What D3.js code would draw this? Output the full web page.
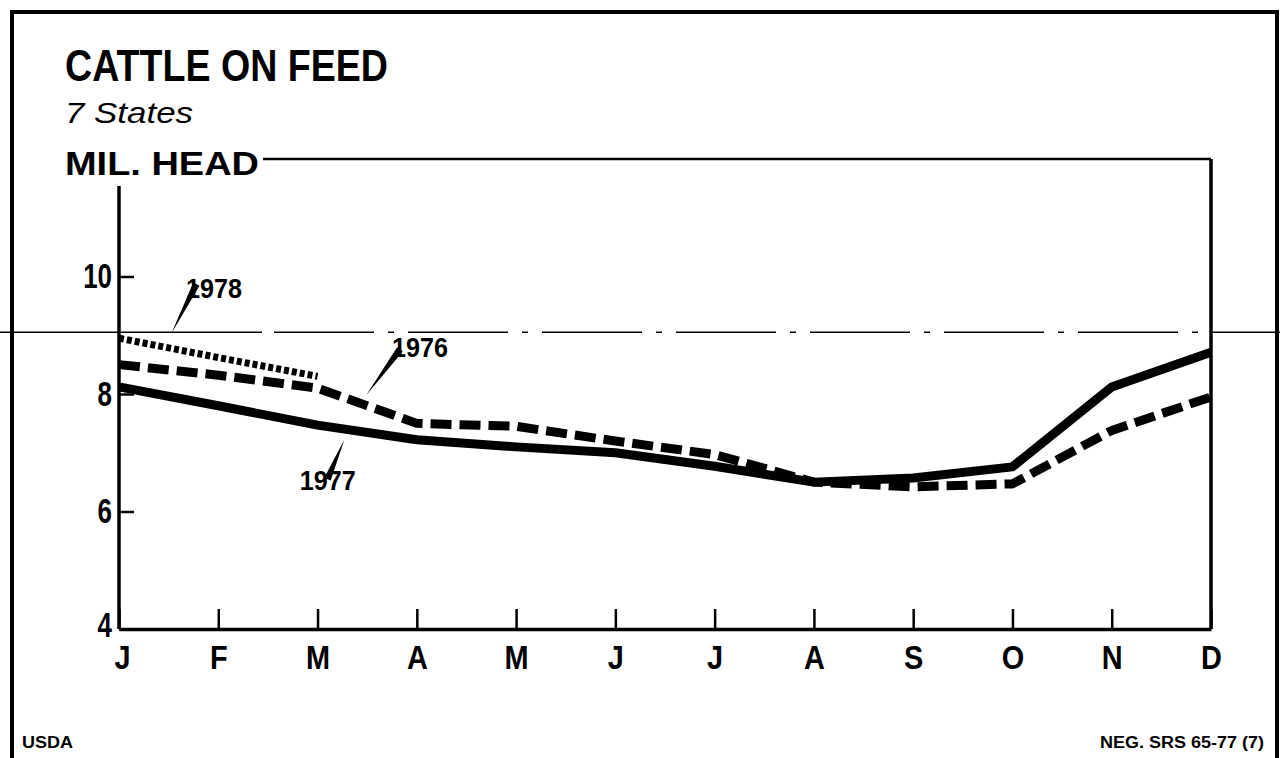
<!DOCTYPE html>
<html>
<head>
<meta charset="utf-8">
<script src="https://cdn.jsdelivr.net/npm/d3@7"></script>
<style>
  html, body { margin: 0; padding: 0; background: #fff; }
  svg { display: block; }
  text { font-family: "Liberation Sans", Arial, Helvetica, sans-serif; fill: #000; }
</style>
</head>
<body>
<svg id="chart" width="1280" height="758"></svg>
<script>
// ---- data ----
const months = ["J", "F", "M", "A", "M", "J", "J", "A", "S", "O", "N", "D"];
const yTickValues = [4, 6, 8, 10];
const series1976 = [8.5, 8.32, 8.1, 7.5, 7.45, 7.2, 6.97, 6.5, 6.42, 6.47, 7.38, 7.95];
const series1977 = [8.12, 7.8, 7.47, 7.22, 7.1, 7.0, 6.77, 6.5, 6.57, 6.76, 8.12, 8.71];
const series1978 = [8.95, 8.62, 8.3];
const referenceLevel = [9.05];
const seriesNames = ["1976", "1977", "1978"];

// ---- layout ----
const svg = d3.select("#chart");
const W = 1280, H = 758;
const plot = { left: 119, right: 1211, top: 159, bottom: 629 };

const x = d3.scaleLinear().domain([0, 11]).range([plot.left, plot.right]);
const y = d3.scaleLinear().domain([4, 12]).range([plot.bottom, plot.top]);

function condense(sel, factor) {
  sel.each(function() {
    const w = this.getComputedTextLength();
    d3.select(this).attr("textLength", w * factor).attr("lengthAdjust", "spacingAndGlyphs");
  });
}

// outer border
svg.append("path")
  .attr("d", `M12,${H} L12,12 L1277,12 L1277,${H}`)
  .attr("fill", "none").attr("stroke", "#000").attr("stroke-width", 4);

// reference dash-dot line spanning full width
referenceLevel.forEach(v => {
  svg.append("line").attr("x1", 0).attr("x2", 262)
    .attr("y1", y(v)).attr("y2", y(v))
    .attr("stroke", "#000").attr("stroke-width", 1.6);
  svg.append("line").attr("x1", 274).attr("x2", W)
    .attr("y1", y(v)).attr("y2", y(v))
    .attr("stroke", "#000").attr("stroke-width", 1.6)
    .attr("stroke-dasharray", "100,14,6,14");
});

// titles
svg.append("text").attr("x", 65).attr("y", 81)
  .attr("font-size", 45).attr("font-weight", "bold")
  .attr("textLength", 323).attr("lengthAdjust", "spacingAndGlyphs")
  .text("CATTLE ON FEED");
svg.append("text").attr("x", 65).attr("y", 123)
  .attr("font-size", 30).attr("font-style", "italic")
  .attr("textLength", 128).attr("lengthAdjust", "spacingAndGlyphs")
  .text("7 States");
svg.append("text").attr("x", 65).attr("y", 175)
  .attr("font-size", 34).attr("font-weight", "bold")
  .attr("textLength", 194).attr("lengthAdjust", "spacingAndGlyphs")
  .text("MIL. HEAD");

// plot frame: top (after label), right, left
svg.append("line").attr("x1", 263).attr("x2", plot.right)
  .attr("y1", plot.top).attr("y2", plot.top)
  .attr("stroke", "#000").attr("stroke-width", 2.5);
svg.append("line").attr("x1", plot.right).attr("x2", plot.right)
  .attr("y1", plot.top).attr("y2", plot.bottom)
  .attr("stroke", "#000").attr("stroke-width", 3.5);
svg.append("line").attr("x1", plot.left).attr("x2", plot.left)
  .attr("y1", 186).attr("y2", plot.bottom)
  .attr("stroke", "#000").attr("stroke-width", 3.5);

// x axis
const xAxis = d3.axisBottom(x)
  .tickValues(d3.range(months.length))
  .tickFormat(i => months[i])
  .tickSize(-20).tickSizeOuter(0).tickPadding(16);
const gx = svg.append("g").attr("transform", `translate(0,${plot.bottom})`).call(xAxis);
gx.select(".domain").attr("stroke-width", 3.5);
gx.selectAll(".tick line").attr("stroke-width", 2.5);
gx.selectAll(".tick text").attr("font-size", 34).attr("font-weight", "bold")
  .attr("font-family", "'Liberation Sans', Arial, sans-serif").attr("fill", "#000")
  .attr("dx", (d, i) => i === 0 ? 3 : 0)
  .call(condense, 0.85);

// y axis
const yAxis = d3.axisLeft(y)
  .tickValues(yTickValues)
  .tickFormat(d3.format("d"))
  .tickSize(-15).tickSizeOuter(0).tickPadding(7);
const gy = svg.append("g").attr("transform", `translate(${plot.left},0)`).call(yAxis);
gy.select(".domain").remove();
gy.selectAll(".tick line").attr("stroke-width", 2.5);
gy.selectAll(".tick text").attr("font-size", 35).attr("font-weight", "bold")
  .attr("font-family", "'Liberation Sans', Arial, sans-serif").attr("fill", "#000")
  .attr("dy", d => d === 4 ? "0.2em" : "0.32em")
  .call(condense, 0.74);

// lines
const line = d3.line().x((d, i) => x(i)).y(d => y(d)).curve(d3.curveLinear);
const styles = {
  "1976": { data: series1976, width: 9, dash: "21,8" },
  "1977": { data: series1977, width: 9, dash: null },
  "1978": { data: series1978, width: 7, dash: "5,3" }
};
seriesNames.forEach(name => {
  const s = styles[name];
  svg.append("path").datum(s.data)
    .attr("d", line)
    .attr("fill", "none").attr("stroke", "#000")
    .attr("stroke-width", s.width)
    .attr("stroke-linejoin", "round")
    .attr("stroke-dasharray", s.dash);
});

// annotations (data coordinates: month index, value)
const annotations = [
  { text: "1978", tx: 0.675, tv: 9.63, tip: [0.53, 9.04], base: [0.78, 9.87] },
  { text: "1976", tx: 2.75, tv: 8.63, tip: [2.49, 7.98], base: [2.83, 8.76] },
  { text: "1977", tx: 1.82, tv: 6.37, tip: [2.27, 7.22], base: [2.10, 6.55] }
];
annotations.forEach(a => {
  const x1 = x(a.tip[0]), y1 = y(a.tip[1]);
  const x2 = x(a.base[0]), y2 = y(a.base[1]);
  const dx = x2 - x1, dy = y2 - y1, len = Math.hypot(dx, dy);
  const nx = -dy / len * 3.5, ny = dx / len * 3.5;
  svg.append("path")
    .attr("d", `M${x1},${y1} L${x2 + nx},${y2 + ny} L${x2 - nx},${y2 - ny} Z`)
    .attr("fill", "#000");
  svg.append("text").attr("x", x(a.tx)).attr("y", y(a.tv))
    .attr("font-size", 28).attr("font-weight", "bold")
    .attr("textLength", 56).attr("lengthAdjust", "spacingAndGlyphs")
    .text(a.text);
});

// footer
svg.append("text").attr("x", 22).attr("y", 748)
  .attr("font-size", 16).attr("font-weight", "bold")
  .attr("textLength", 51).attr("lengthAdjust", "spacingAndGlyphs")
  .text("USDA");
svg.append("text").attr("x", 1100).attr("y", 748)
  .attr("font-size", 16).attr("font-weight", "bold")
  .attr("textLength", 164).attr("lengthAdjust", "spacingAndGlyphs")
  .text("NEG. SRS 65-77 (7)");
</script>
</body>
</html>
